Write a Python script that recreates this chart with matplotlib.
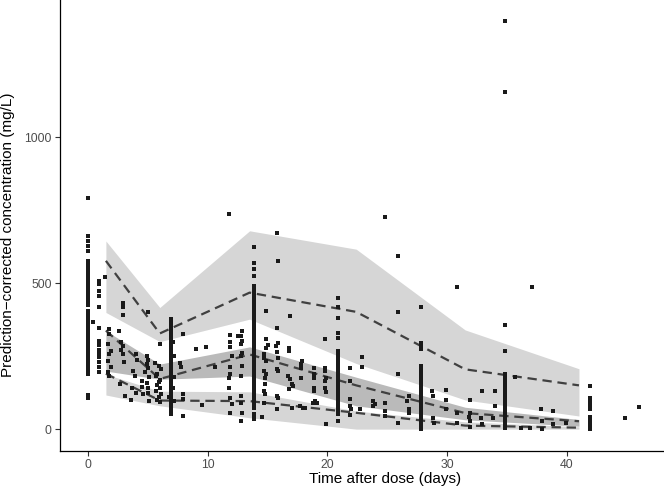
import numpy as np
import matplotlib.pyplot as plt

plt.rcParams['font.family'] = ['Liberation Sans', 'DejaVu Sans']

# bins of the VPC
bin_time = [1.5, 6, 13.5, 22.4, 31.5, 41]

# simulated confidence bands
hi_band_top = [645, 417, 680, 617, 340, 207]
hi_band_bot = [400, 300, 377, 225, 100, 45]
mid_band_top = [337, 223, 282, 178, 75, 33]
mid_band_bot = [199, 171, 182, 80, 32, 10]
lo_band_top = [188, 130, 128, 62, 25, 8]
lo_band_bot = [117, 80, 39, 0, 0, 0]

# observed percentiles
obs_p95 = [577, 328, 468, 402, 205, 150]
obs_p50 = [338, 172, 256, 150, 55, 27]
obs_p05 = [190, 98, 96, 56, 12, 5]

# observed points, dense columns at nominal visit days
col_days = [0.0, 0.9, 6.95, 13.9, 20.85, 27.85, 34.85, 41.9]
col_conc = [
    [792, 663, 645, 628, 610, 578, 565, 552, 541, 530, 517, 506, 495, 486, 474, 463, 451, 440,
     427, 406, 395, 385, 377, 364, 353, 341, 327, 319, 306, 292, 281, 267, 257, 244, 233, 223,
     211, 199, 190, 116, 108],
    [508, 498, 475, 457, 420, 348, 302, 288, 272, 260, 246, 230, 213, 196],
    [377, 366, 354, 343, 330, 317, 305, 296, 288, 278, 271, 262, 255, 248, 239, 233, 225, 219,
     212, 203, 197, 189, 183, 175, 169, 162, 154, 147, 141, 133, 126, 121, 113, 105, 99, 93,
     85, 79, 71, 64, 58, 52],
    [623, 571, 548, 525, 491, 481, 469, 458, 448, 435, 426, 413, 403, 391, 382, 370, 361, 349,
     341, 329, 322, 310, 303, 291, 284, 273, 266, 255, 248, 237, 230, 219, 212, 201, 194, 183,
     176, 165, 158, 147, 140, 129, 122, 111, 104, 93, 86, 73, 51, 39, 33],
    [451, 417, 382, 331, 314, 268, 259, 246, 238, 225, 215, 202, 194, 181, 172, 159, 151, 138,
     130, 117, 109, 96, 88, 75, 67, 58, 51, 27],
    [419, 296, 285, 274, 216, 204, 195, 182, 173, 159, 151, 138, 129, 117, 108, 95, 87, 74,
     66, 54, 46, 34, 26, 14, 8, 2],
    [1401, 1155, 357, 268, 188, 175, 160, 149, 136, 127, 114, 105, 92, 83, 71, 63, 50, 42,
     30, 22, 11, 4],
    [148, 107, 96, 82, 68, 40, 30, 20, 10, 2],
]

# observed points between the visits
scatter_day = [
    0.45, 1.4, 1.8, 1.8, 1.7, 1.9, 1.8, 1.7, 1.9, 1.7, 1.8,
    2.9, 2.9, 2.95, 2.6, 2.8, 2.9, 2.8, 2.9, 3.0, 2.7, 3.1, 3.6,
    4.0, 4.1, 3.8, 3.9, 3.7, 4.0,
    5.0, 4.9, 5.0, 4.9, 5.0, 4.8, 5.1, 4.5, 4.9, 4.5, 5.0, 5.0, 4.6, 5.1,
    6.0, 5.6, 5.9, 6.1, 5.8, 5.7, 6.0, 5.9, 5.8, 6.0, 5.7, 6.1, 5.9, 5.8, 6.0,
    7.1, 7.15, 7.2, 7.1, 6.8, 7.2,
    7.9, 7.7, 7.8, 7.9, 7.9, 7.9, 9.0, 9.9, 9.5, 10.6,
    11.8, 11.9, 11.9, 11.9, 12.0, 11.9, 11.9, 11.8, 11.8, 11.9, 12.0, 11.9, 12.5,
    12.9, 12.8, 12.9, 12.8, 12.9, 12.8, 12.9, 12.8, 12.8, 12.8, 12.9, 12.8,
    14.5, 14.9, 14.9, 15.0, 14.9, 14.7, 14.7, 14.9, 14.7, 14.9, 14.8, 14.8, 14.7, 14.8, 14.7,
    15.8, 15.9, 15.8, 15.9, 15.7, 15.8, 15.9, 15.8, 15.9, 15.8, 15.9, 15.8,
    16.9, 16.8, 16.8, 16.7, 16.9, 17.0, 17.1, 16.8, 17.0,
    17.9, 17.8, 17.8, 17.8, 17.7, 17.95,
    18.9, 18.85, 18.9, 18.9, 18.9, 18.8, 19.0, 18.1,
    19.8, 19.8, 19.8, 19.9, 19.8, 19.8, 19.9, 19.9, 19.1,
    21.9, 21.9, 21.9, 21.9, 21.9, 22.9, 22.9, 22.0, 22.7, 23.8, 23.8, 24.0,
    24.8, 24.8, 24.8, 24.8, 25.9, 25.9, 25.9, 25.9, 26.6, 26.8, 26.8, 26.8,
    28.7, 28.8, 28.8, 28.9, 29.9, 29.9, 29.9, 30.8, 30.8, 30.8,
    31.9, 31.9, 31.8, 31.9, 31.9, 32.9, 32.8, 32.9, 34.0, 34.0, 33.8,
    35.7, 36.2, 36.9, 37.06, 37.8, 37.9, 37.9, 38.8, 38.8, 39.9,
    44.85, 46.05,
]
scatter_conc = [
    368, 520, 343, 326, 291, 268, 257, 233, 213, 195, 182,
    434, 420, 392, 335, 300, 285, 270, 258, 230, 153, 113, 100,
    257, 236, 200, 182, 142, 125,
    400, 250, 236, 222, 210, 195, 180, 165, 158, 145, 142, 125, 120, 96,
    291, 228, 215, 205, 190, 182, 170, 160, 150, 140, 130, 120, 110, 100, 92,
    300, 250, 180, 140, 110, 95,
    327, 228, 212, 121, 102, 45, 274, 282, 82, 213,
    737, 322, 300, 280, 250, 212, 188, 176, 142, 107, 86, 56, 319,
    337, 320, 302, 291, 262, 250, 216, 182, 113, 90, 56, 27,
    41, 405, 309, 290, 279, 257, 245, 233, 199, 188, 175, 155, 130, 121, 90,
    671, 577, 348, 296, 285, 265, 245, 206, 199, 113, 107, 68,
    388, 279, 268, 182, 172, 155, 148, 137, 73,
    233, 222, 211, 175, 79, 73,
    211, 190, 176, 142, 130, 90, 96, 73,
    308, 211, 199, 176, 165, 142, 126, 16, 90,
    211, 165, 102, 79, 50, 247, 213, 68, 68, 96, 79, 85,
    726, 90, 62, 45, 594, 402, 188, 22, 96, 113, 68, 56,
    130, 113, 39, 22, 134, 99, 68, 488, 56, 22,
    99, 56, 40, 27, 7, 130, 39, 16, 130, 80, 39,
    180, 4, 4, 488, 68, 27, 2, 62, 16, 22,
    37, 76,
]

obs_x = list(scatter_day)
obs_y = list(scatter_conc)
for d, vals in zip(col_days, col_conc):
    obs_x += [d] * len(vals)
    obs_y += vals

fig = plt.figure(figsize=(6.64, 4.93), dpi=100)
ax = fig.add_axes([0.0904, 0.0858, 0.9096, 0.914])

ax.fill_between(bin_time, hi_band_bot, hi_band_top, color='#d6d6d6', lw=0)
ax.fill_between(bin_time, mid_band_bot, mid_band_top, color='#bababa', lw=0)
ax.fill_between(bin_time, lo_band_bot, lo_band_top, color='#d6d6d6', lw=0)

for p in [obs_p95, obs_p50, obs_p05]:
    ax.plot(bin_time, p, color='#404040', lw=1.6, dashes=(4.2, 2.6))

ax.scatter(obs_x, obs_y, marker='s', s=11, color='#1a1a1a', lw=0, zorder=3)

ax.set_xlim(-2.33, 48.1)
ax.set_ylim(-74, 1471)
ax.set_xticks([0, 10, 20, 30, 40])
ax.set_yticks([0, 500, 1000])

for s in ['top', 'right']:
    ax.spines[s].set_visible(False)
for s in ['left', 'bottom']:
    ax.spines[s].set_linewidth(0.9)
    ax.spines[s].set_color('black')
ax.tick_params(length=3.8, width=0.8, color='#333333', labelcolor='#4d4d4d',
               labelsize=8.8, pad=2.2)

ax.set_xlabel('Time after dose (days)', fontsize=11, labelpad=0)
ax.xaxis.set_label_coords(0.538, -0.048)
ax.set_ylabel('Prediction\u2212corrected concentration (mg/L)', fontsize=11, labelpad=3)
ax.yaxis.set_label_coords(-0.075, 0.48)

fig.savefig('out.png', dpi=100)
